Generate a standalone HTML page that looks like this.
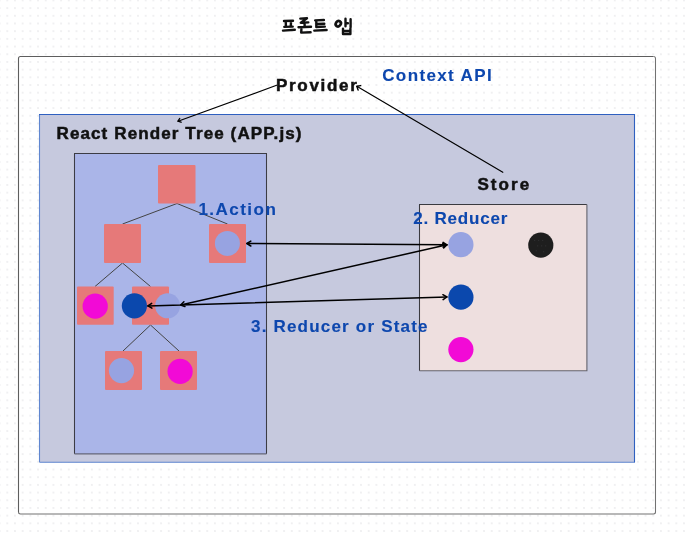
<!DOCTYPE html>
<html><head><meta charset="utf-8">
<style>
html,body{margin:0;padding:0;background:#fff;width:688px;height:535px;overflow:hidden}
svg{display:block;position:absolute;left:0;top:0;will-change:transform}
text{font-family:"Liberation Sans",sans-serif;font-weight:bold;font-size:15.5px;stroke-width:0.1px}
</style></head><body>
<svg width="688" height="535" viewBox="0 0 688 535">
<defs>
<pattern id="dots" x="-0.39" y="0.41" width="7.69" height="7.69" patternUnits="userSpaceOnUse">
<circle cx="0" cy="0" r="1" fill="#ececee"/><circle cx="7.69" cy="0" r="1" fill="#ececee"/><circle cx="0" cy="7.69" r="1" fill="#ececee"/><circle cx="7.69" cy="7.69" r="1" fill="#ececee"/>
</pattern>
</defs>
<rect x="0" y="0" width="688" height="535" fill="#fff"/>
<rect x="0" y="0" width="688" height="535" fill="url(#dots)"/>

<!-- Korean title -->
<g fill="none" stroke="#111" stroke-width="2.4" stroke-linecap="round" stroke-linejoin="round">
<path d="M284 21 L293 20.8 M285.8 21 L285.9 26.5 M291 21 L290.8 26.5 M284.3 26.9 L292.7 26.6 M283 30.6 L294.8 29.8"/>
<path d="M300.3 18.6 L307 18.3 L300.8 22.8 L308.3 22.4 M304.6 22.6 L304.6 26.8 M298.5 27.2 L311 26.7 M301.4 29.2 L301.2 32.6 L310.6 32.3"/>
<path d="M315.2 20.4 L323.9 20 M316.3 20.4 L316.3 27 M316.5 24 L324.3 23.8 M316.3 27 L324.8 26.6 M314.3 30.6 L326.6 30"/>
<ellipse cx="338.3" cy="23.7" rx="2.4" ry="2.9" transform="rotate(35 338.3 23.7)" stroke-width="2.7"/>
<path d="M345.5 18.8 L345.5 26.3 M345.5 23.3 L347.9 23.3 M350.6 19.2 L350.6 27.3 M343 28.6 L343 34 L350.4 34 L350.4 28.6 M343 31 L350.4 31"/>
</g>

<!-- outer rect -->
<path d="M18.5 512 L18.5 58.5 Q18.5 56.5 20.5 56.5 L653.5 56.5" fill="none" stroke="#5e5e5e" stroke-width="1.1"/>
<path d="M653.5 56.5 Q655.5 56.5 655.5 58.5 L655.5 512 Q655.5 514 653.5 514 L20.5 514 Q18.5 514 18.5 512" fill="none" stroke="#727272" stroke-width="1.05"/>

<!-- inner rect -->
<rect x="39.5" y="114.5" width="595" height="347.8" fill="#c6c9de"/>
<path d="M39.5 462.3 L39.5 114.5 M634.5 462.3 L39.5 462.3" fill="none" stroke="#5f86d0" stroke-width="1.1"/>
<path d="M39 114.5 L634.5 114.5 L634.5 462.5" fill="none" stroke="#2f60c0" stroke-width="1.1"/>

<!-- tree rect -->
<rect x="74.5" y="153.5" width="192" height="300.3" fill="#aab5e8"/>
<path d="M74.5 453.8 L74.5 153.5 L266.5 153.5 L266.5 453.8" fill="none" stroke="#3c3c44" stroke-width="1.05"/>
<path d="M74.5 453.9 L266.5 453.9" fill="none" stroke="#4a4a55" stroke-width="1.1" opacity="0.75"/>

<!-- store rect -->
<rect x="419.5" y="204.5" width="167.3" height="166.3" fill="#eedfdf"/>
<path d="M419.5 370.8 L419.5 204.5 L586.8 204.5" fill="none" stroke="#3a3a40" stroke-width="1.05"/>
<path d="M586.9 204.5 L586.9 370.8 L419.5 370.8" fill="none" stroke="#505058" stroke-width="1.1" opacity="0.85"/>

<!-- tree edges -->
<g stroke="#444" stroke-width="1" fill="none">
<path d="M177 203.5 L122.5 224 M177 203.5 L227.5 224"/>
<path d="M122.5 263 L95 286.5 M122.5 263 L150.5 286.5"/>
<path d="M150.5 325 L123 351 M150.5 325 L179 351"/>
</g>

<!-- squares -->
<g fill="#e67979">
<rect x="158" y="165" width="37.5" height="38.5" rx="1"/>
<rect x="104" y="224" width="37" height="39" rx="1"/>
<rect x="209" y="224" width="37" height="39" rx="1"/>
<rect x="77" y="286.5" width="36.7" height="38.2" rx="1"/>
<rect x="132" y="286.5" width="37" height="38.2" rx="1"/>
<rect x="105" y="351" width="37" height="39" rx="1"/>
<rect x="160" y="351" width="37" height="39" rx="1"/>
</g>

<!-- circles -->
<circle cx="227.4" cy="243.4" r="12.5" fill="#97a3e1"/>
<circle cx="95.2" cy="306.2" r="12.6" fill="#f20ad6"/>
<circle cx="134.4" cy="305.8" r="12.6" fill="#0b48ad"/>
<circle cx="167.6" cy="305.8" r="12.5" fill="#97a3e1"/>
<circle cx="121.5" cy="370.6" r="12.6" fill="#97a3e1"/>
<circle cx="180.1" cy="371.4" r="12.6" fill="#f20ad6"/>

<circle cx="460.9" cy="244.7" r="12.6" fill="#97a3e1"/>
<circle cx="540.8" cy="245.1" r="12.6" fill="#1e1e1e"/>
<g fill="#343436"><rect x="534.2" y="239.9" width="1" height="1"/><rect x="538.2" y="239.9" width="1" height="1"/><rect x="542.2" y="239.9" width="1" height="1"/><rect x="537.2" y="245.4" width="1" height="1"/><rect x="541.2" y="245.4" width="1" height="1"/><rect x="545.2" y="245.4" width="1" height="1"/><rect x="535.7" y="250.3" width="1" height="1"/><rect x="543.2" y="251.3" width="1" height="1"/></g>
<circle cx="460.9" cy="297.2" r="12.6" fill="#0b48ad"/>
<circle cx="460.9" cy="349.6" r="12.6" fill="#f20ad6"/>

<!-- arrows -->
<g stroke="#000" stroke-width="1.5" fill="none" stroke-linecap="round" stroke-linejoin="round">
<path d="M246.9 243.5 L447.0 244.8 M180.6 305.0 L447.0 244.8 M147.9 305.9 L446.9 297.0"/>
<path d="M250.8 246.0 L246.9 243.5 L250.8 241.1 M443.1 242.3 L447.0 244.8 L443.1 247.2 M184.9 306.5 L180.6 305.0 L183.9 301.8 M442.7 243.3 L447.0 244.8 L443.7 248.0 M151.9 308.2 L147.9 305.9 L151.7 303.3 M442.9 294.7 L446.9 297.0 L443.1 299.6"/>
</g>
<g stroke="#000" stroke-width="1.2" fill="none" stroke-linecap="round" stroke-linejoin="round">
<path d="M276.6 85.3 L178 121.2 M356.8 86.3 L502.8 172.3"/>
<path d="M181.0 122.2 L178.0 121.2 L179.7 118.5 M358.1 90.1 L356.8 86.3 L360.7 85.6" stroke-width="1.4"/>
</g>

<!-- texts -->
<g transform="translate(276,91.2) scale(1.1,1.09)"><text x="0" y="0" fill="#111" stroke="#111" style="stroke-width:0.45px" textLength="73.5" lengthAdjust="spacing">Provider</text></g>
<g transform="translate(382.2,81.2) scale(1.1,1.09)"><text x="0" y="0" fill="#0d47ae" stroke="#0d47ae" textLength="99.6" lengthAdjust="spacing">Context API</text></g>
<g transform="translate(56.5,138.6) scale(1.1,1.09)"><text x="0" y="0" fill="#111" stroke="#111" style="stroke-width:0.45px" textLength="222.7" lengthAdjust="spacing">React Render Tree (APP.js)</text></g>
<g transform="translate(477.4,189.6) scale(1.1,1.09)"><text x="0" y="0" fill="#111" stroke="#111" style="stroke-width:0.45px" textLength="47.1" lengthAdjust="spacing">Store</text></g>
<g transform="translate(198.4,214.8) scale(1.1,1.09)"><text x="0" y="0" fill="#0d47ae" stroke="#0d47ae" textLength="70.4" lengthAdjust="spacing">1.Action</text></g>
<g transform="translate(413.3,224.4) scale(1.1,1.09)"><text x="0" y="0" fill="#0d47ae" stroke="#0d47ae" textLength="85.5" lengthAdjust="spacing">2. Reducer</text></g>
<g transform="translate(251,331.8) scale(1.1,1.09)"><text x="0" y="0" fill="#0d47ae" stroke="#0d47ae" textLength="160.5" lengthAdjust="spacing">3. Reducer or State</text></g>
</svg>
</body></html>
